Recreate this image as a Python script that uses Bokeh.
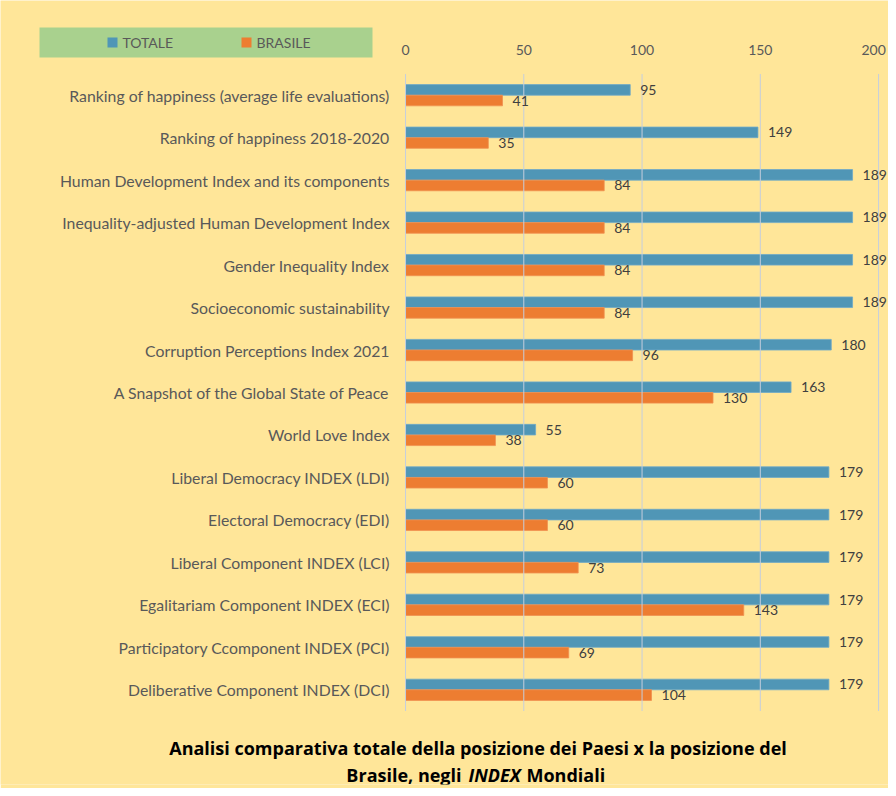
from bokeh.plotting import figure
from bokeh.models import (ColumnDataSource, FactorRange, Range1d, Label, BoxAnnotation)
from bokeh.transform import dodge
from bokeh.core.properties import value
from bokeh.embed import file_html
from bokeh.resources import INLINE

categories = [
    "Ranking of happiness (average life evaluations)",
    "Ranking of happiness 2018-2020",
    "Human Development Index and its components",
    "Inequality-adjusted Human Development Index",
    "Gender Inequality Index",
    "Socioeconomic sustainability",
    "Corruption Perceptions Index 2021",
    "A Snapshot of the Global State of Peace",
    "World Love Index",
    "Liberal Democracy INDEX (LDI)",
    "Electoral Democracy (EDI)",
    "Liberal Component INDEX (LCI)",
    "Egalitariam Component INDEX (ECI)",
    "Participatory Ccomponent INDEX (PCI)",
    "Deliberative Component INDEX (DCI)",
]
totale = [95, 149, 189, 189, 189, 189, 180, 163, 55, 179, 179, 179, 179, 179, 179]
brasile = [41, 35, 84, 84, 84, 84, 96, 130, 38, 60, 60, 73, 143, 69, 104]
x_ticks = [0, 50, 100, 150, 200]
series_names = ["TOTALE", "BRASILE"]
title_line1 = "Analisi comparativa totale della posizione dei Paesi x la posizione del"
title_line2 = ["Brasile, negli", "INDEX", "Mondiali"]

FONT = "Lato"
TFONT = "Open Sans"
BG = "#FFE699"
BLUE = "#5096B6"
ORANGE = "#ED7D31"
TXT = "#595959"
GRID = "#C5CEDD"

src = ColumnDataSource(dict(
    cat=categories,
    tot=totale,
    bra=brasile,
    tot_s=[str(v) for v in totale],
    bra_s=[str(v) for v in brasile],
    zero=[x_ticks[0]] * len(categories),
))
tick_src = ColumnDataSource(dict(
    x=x_ticks,
    lab=[str(t) for t in x_ticks],
    top=[categories[0]] * len(x_ticks),
    bottom=[categories[-1]] * len(x_ticks),
    xoff=[0, 0, 0, 0, -5],
))

p = figure(
    width=888, height=788,
    y_range=FactorRange(factors=list(reversed(categories)),
                        range_padding=1.73, range_padding_units="absolute"),
    x_range=Range1d(-171.25, 204.2),
    x_axis_location=None, y_axis_location=None,
    output_backend="svg", toolbar_location=None,
    min_border=0, min_border_bottom=4,
)
p.background_fill_color = BG
p.border_fill_color = BG
p.outline_line_color = None
p.grid.visible = False

# bars
p.hbar(y=dodge("cat", 0.125, range=p.y_range), right="tot", left="zero", height=0.25,
       source=src, fill_color=BLUE, line_color="#6FAAC8", line_width=0.8)
p.hbar(y=dodge("cat", -0.125, range=p.y_range), right="bra", left="zero", height=0.25,
       source=src, fill_color=ORANGE, line_color="#F09050", line_width=0.8)

# vertical grid lines at the x ticks (over the bars, like the original)
p.segment(x0="x", x1="x",
          y0=dodge("top", 0.5, range=p.y_range), y1=dodge("bottom", -0.5, range=p.y_range),
          source=tick_src, line_color=GRID, line_width=1)

# x tick labels (top)
p.text(x="x", y=dodge("top", 0.5, range=p.y_range), text="lab", source=tick_src,
       x_offset="xoff", y_offset=-24, text_align="center", text_baseline="middle",
       text_font=value(FONT), text_font_size="14px", text_color=TXT)

# category labels
p.text(x="zero", y="cat", text="cat", source=src, x_offset=-16,
       text_align="right", text_baseline="middle",
       text_font=value(FONT), text_font_size="15.8px", text_color=TXT)

# value labels
p.text(x="tot", y=dodge("cat", 0.125, range=p.y_range), text="tot_s", source=src,
       x_offset=10, text_baseline="middle", text_align="left",
       text_font=value(FONT), text_font_size="14px", text_color="#404040")
p.text(x="bra", y=dodge("cat", -0.125, range=p.y_range), text="bra_s", source=src,
       x_offset=10, text_baseline="middle", text_align="left",
       text_font=value(FONT), text_font_size="14px", text_color="#404040")

# legend (screen units relative to the frame, origin bottom-left; frame bottom = 784)
FB = 784
def box(l, r, t, b, color):
    p.add_layout(BoxAnnotation(left=l, right=r, top=FB - t, bottom=FB - b,
                               left_units="screen", right_units="screen",
                               top_units="screen", bottom_units="screen",
                               fill_color=color, fill_alpha=1, line_color=None))

box(39, 372, 27, 57, "#A9D18E")
box(107, 117, 37, 47, BLUE)
box(241, 251, 37, 47, ORANGE)
for x, name in [(122, series_names[0]), (256, series_names[1])]:
    p.add_layout(Label(x=x, y=FB - 42, x_units="screen", y_units="screen", text=name,
                       text_font=FONT, text_font_size="14px", text_color=TXT,
                       text_baseline="middle", text_align="left"))

# title
def tlabel(x, y, text, style, align):
    p.add_layout(Label(x=x, y=FB - y, x_units="screen", y_units="screen", text=text,
                       text_font=TFONT, text_font_size="18px", text_font_style=style,
                       text_color="#000000", text_baseline="middle", text_align=align))

tlabel(477.5, 747, title_line1, "bold", "center")
tlabel(461, 774, title_line2[0], "bold", "right")
tlabel(494, 774, title_line2[1], "bold italic", "center")
tlabel(526, 774, title_line2[2], "bold", "left")

open("out.html", "w").write(file_html(p, INLINE))
